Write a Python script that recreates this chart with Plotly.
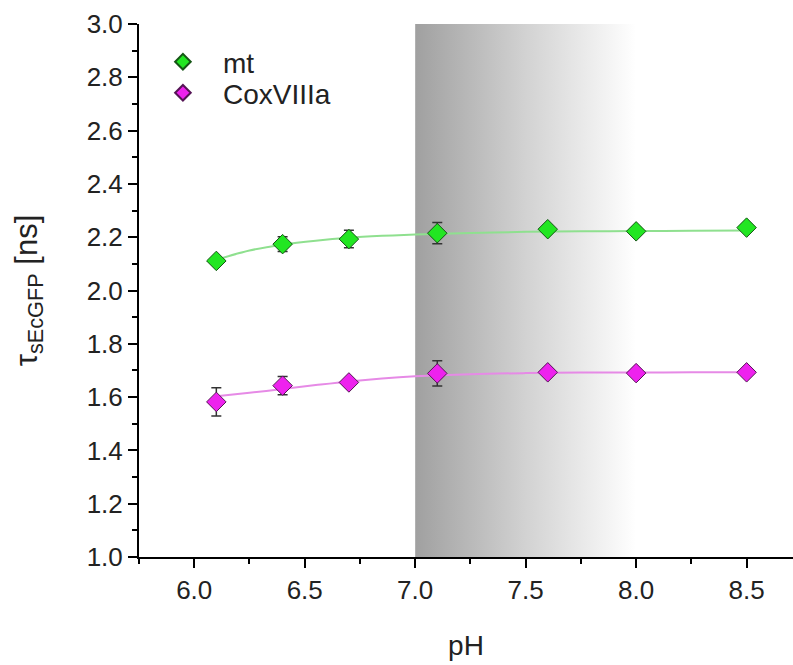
import plotly.graph_objects as go

# Measured lifetimes vs pH
ph = [6.1, 6.4, 6.7, 7.1, 7.6, 8.0, 8.5]
tau_mt = [2.111, 2.174, 2.193, 2.215, 2.230, 2.222, 2.236]
err_mt = [0.012, 0.028, 0.033, 0.040, 0.015, 0.015, 0.010]
tau_cox = [1.582, 1.643, 1.655, 1.689, 1.693, 1.690, 1.693]
err_cox = [0.053, 0.034, 0.010, 0.047, 0.015, 0.010, 0.010]

# Fitted titration curves (sampled points)
fit_ph = [6.1, 6.25, 6.4, 6.55, 6.7, 6.85, 7.0, 7.25, 7.5, 7.75, 8.0, 8.25, 8.5]
fit_mt = [2.115, 2.150, 2.172, 2.187, 2.198, 2.205, 2.210, 2.216, 2.220, 2.222, 2.223, 2.224, 2.225]
fit_cox = [1.603, 1.616, 1.630, 1.645, 1.659, 1.670, 1.678, 1.686, 1.690, 1.692, 1.692, 1.693, 1.693]

# Shaded physiological pH band
band_x = [7.0, 8.0]
y_range = [1.0, 3.0]
x_range = [5.75, 8.71]

FONT = "Liberation Sans, Arial, sans-serif"
TEXT = "#222222"
GREEN = "#22e622"
MAGENTA = "#ee22ee"

fig = go.Figure()

fig.add_trace(go.Scatter(
    x=[band_x[0], band_x[1], band_x[1], band_x[0], band_x[0]],
    y=[y_range[0], y_range[0], y_range[1], y_range[1], y_range[0]],
    mode="lines", line=dict(width=0), fill="toself",
    fillgradient=dict(type="horizontal",
                      colorscale=[[0, "#a0a0a0"], [0.5, "#d2d2d2"], [1, "#ffffff"]]),
    hoverinfo="skip", showlegend=False,
))

fig.add_trace(go.Scatter(x=fit_ph, y=fit_mt, mode="lines", line_shape="spline",
                         line=dict(color="#8fe08f", width=2), showlegend=False))
fig.add_trace(go.Scatter(x=fit_ph, y=fit_cox, mode="lines", line_shape="spline",
                         line=dict(color="#e68ae6", width=2), showlegend=False))

fig.add_trace(go.Scatter(
    x=ph, y=tau_mt, mode="markers", name="mt", legend="legend",
    marker=dict(symbol="diamond", size=15, color=GREEN, line=dict(color="#155515", width=1)),
    error_y=dict(type="data", array=err_mt, color="#333333", thickness=1.5, width=5),
))
fig.add_trace(go.Scatter(
    x=ph, y=tau_cox, mode="markers", name="CoxVIIIa", legend="legend2",
    marker=dict(symbol="diamond", size=15, color=MAGENTA, line=dict(color="#551555", width=1)),
    error_y=dict(type="data", array=err_cox, color="#333333", thickness=1.5, width=5),
))

axis_common = dict(
    showgrid=False, zeroline=False, showline=True, linecolor="black", linewidth=2,
    ticks="outside", ticklen=9, tickwidth=2, tickcolor="black",
    tickfont=dict(family=FONT, size=26, color=TEXT),
)

fig.update_xaxes(
    range=x_range, tick0=6.0, dtick=0.5, tickformat=".1f",
    minor=dict(dtick=0.25, tick0=6.0, ticks="outside", ticklen=5, tickwidth=2, tickcolor="black"),
    title=dict(text="pH", font=dict(family=FONT, size=28, color=TEXT), standoff=31),
    **axis_common,
)
fig.update_yaxes(
    range=y_range, tick0=1.0, dtick=0.2, tickformat=".1f",
    minor=dict(dtick=0.1, tick0=1.0, ticks="outside", ticklen=5, tickwidth=2, tickcolor="black"),
    title=dict(text="τ<sub>sEcGFP</sub> [ns]", font=dict(family=FONT, size=31, color=TEXT),
               standoff=40),
    **axis_common,
)

legend_common = dict(xanchor="left", yanchor="middle", itemsizing="constant", itemwidth=70,
                     font=dict(family=FONT, size=28, color=TEXT), bgcolor="rgba(0,0,0,0)")

fig.update_layout(
    width=793, height=665,
    margin=dict(l=139, r=0, t=24, b=108),
    plot_bgcolor="white", paper_bgcolor="white",
    legend=dict(x=0.006, y=0.9287, **legend_common),
    legend2=dict(x=0.006, y=0.8705, **legend_common),
)

fig.write_html("out.html")
